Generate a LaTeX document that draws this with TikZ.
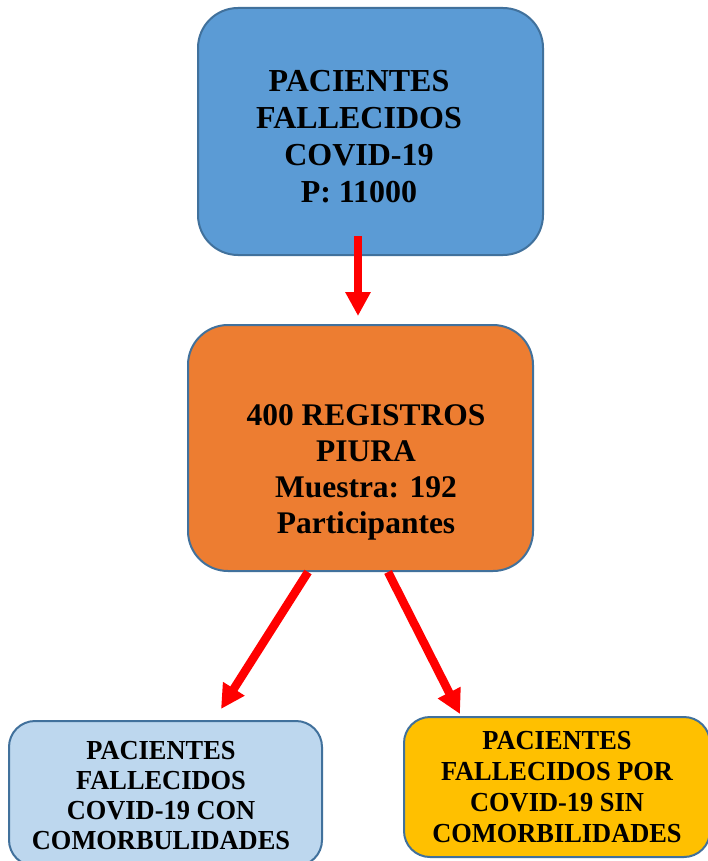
\documentclass[tikz,border=0pt]{standalone}
\usepackage{fontspec}
\setmainfont{Liberation Serif}
\newfontfamily\condserif[FakeStretch=0.96]{Liberation Serif}
\usetikzlibrary{arrows.meta}
\definecolor{bordercol}{HTML}{41719C}
\definecolor{topblue}{HTML}{5B9BD5}
\definecolor{midorange}{HTML}{ED7D31}
\definecolor{lightblue}{HTML}{BDD7EE}
\definecolor{gold}{HTML}{FFC000}
\begin{document}
\begin{tikzpicture}[x=1pt,y=-1pt,
  boxshape/.style={draw=bordercol, line width=2pt, rounded corners=#1, inner sep=0pt},
  bigtext/.style={anchor=base, align=center, inner sep=0pt,
    font=\bfseries\fontsize{32}{36.7}\selectfont},
  midtext/.style={anchor=base, align=center, inner sep=0pt,
    font=\bfseries\fontsize{31.5}{36}\selectfont},
  smalltext/.style={anchor=base, align=center, inner sep=0pt,
    font=\condserif\bfseries\fontsize{27.5}{#1}\selectfont},
  redarrow/.style={draw=red, line width=#1, -{Triangle[width=24pt,length=24pt]}}]
\useasboundingbox (0,0) rectangle (707,861);
\fill[white] (0,0) rectangle (707,861);
\node[boxshape=40pt, fill=topblue, minimum width=345pt, minimum height=247pt] (top) at (370.5,131.5) {};
\node[boxshape=40pt, fill=midorange, minimum width=345pt, minimum height=246pt] (mid) at (360.5,448) {};
\node[boxshape=26pt, fill=lightblue, minimum width=313pt, minimum height=145pt] (left) at (165.5,793.5) {};
\node[boxshape=26pt, fill=gold, minimum width=306pt, minimum height=140pt] (right) at (557,787) {};
\node[bigtext] (toptext) at (359,202) {PACIENTES\\FALLECIDOS\\COVID-19\\P: 11000};
\node[midtext] (midtext) at (366,533) {400 REGISTROS\\PIURA\\Muestra: 192\\Participantes};
\node[smalltext=29.7] (lefttext) at (161,849) {PACIENTES\\FALLECIDOS\\COVID-19 CON\\COMORBULIDADES};
\node[smalltext=30.7] (righttext) at (557,842) {PACIENTES\\FALLECIDOS POR\\COVID-19 SIN\\COMORBILIDADES};
\coordinate (a1s) at ([xshift=-12.5pt,yshift=20pt]top.south);
\coordinate (a1e) at ([xshift=-2.5pt,yshift=8pt]mid.north);
\coordinate (d1s) at ([xshift=-52.5pt]mid.south);
\coordinate (d1e) at ([xshift=55.5pt,yshift=11pt]left.north);
\coordinate (d2s) at ([xshift=27.5pt]mid.south);
\coordinate (d2e) at ([xshift=-97pt,yshift=2pt]right.north);
\draw[redarrow=7.5pt] (a1s) -- (a1e);
\draw[redarrow=8.5pt] (d1s) -- (d1e);
\draw[redarrow=8.5pt] (d2s) -- (d2e);
\end{tikzpicture}
\end{document}
